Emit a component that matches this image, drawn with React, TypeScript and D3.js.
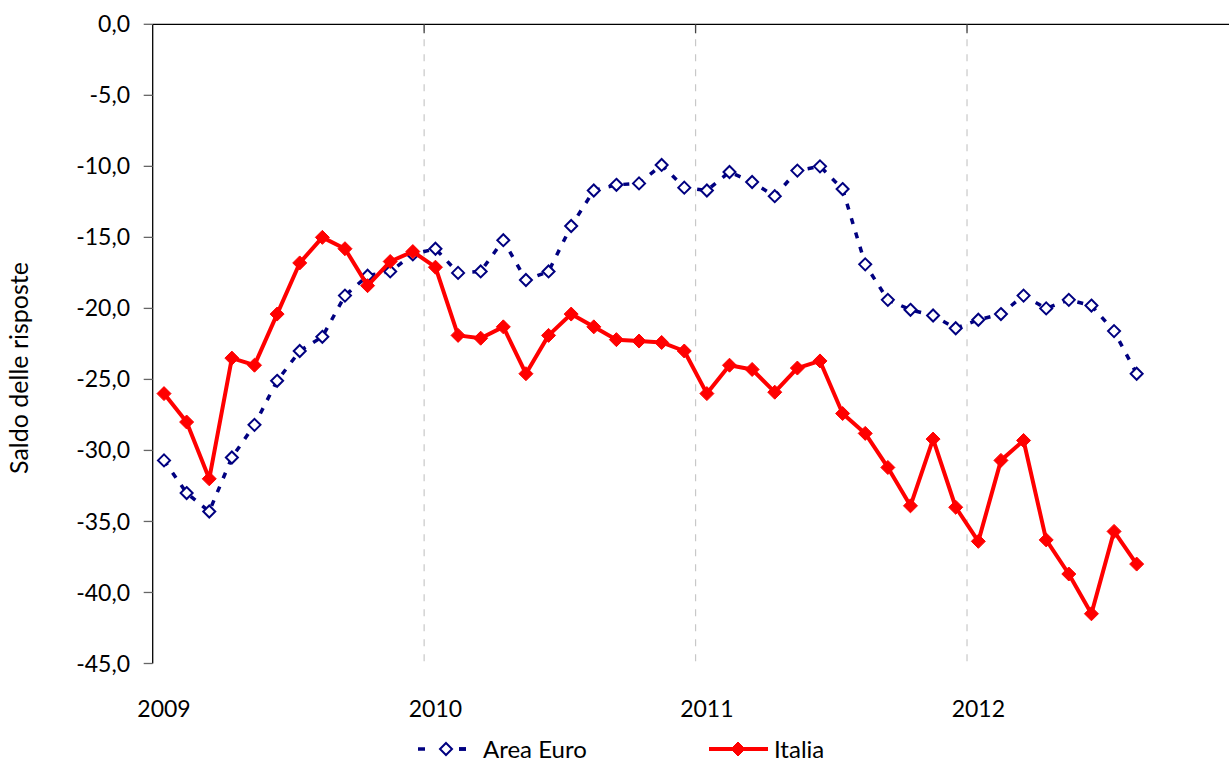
import React from 'react';
import * as d3 from 'd3';

// monthly survey balance, Jan 2009 - Aug 2012
const areaEuro = [
  -30.7, -33.0, -34.3, -30.5, -28.2, -25.1, -23.0, -22.0, -19.1, -17.7, -17.4, -16.2,
  -15.8, -17.5, -17.4, -15.2, -18.0, -17.4, -14.2, -11.7, -11.3, -11.2, -9.9, -11.5,
  -11.7, -10.4, -11.1, -12.1, -10.3, -10.0, -11.6, -16.9, -19.4, -20.1, -20.5, -21.4,
  -20.8, -20.4, -19.1, -20.0, -19.4, -19.8, -21.6, -24.6,
];
const italia = [
  -26.0, -28.0, -32.0, -23.5, -24.0, -20.4, -16.8, -15.0, -15.8, -18.4, -16.7, -16.0,
  -17.1, -21.9, -22.1, -21.3, -24.6, -21.9, -20.4, -21.3, -22.2, -22.3, -22.4, -23.0,
  -26.0, -24.0, -24.3, -25.9, -24.2, -23.7, -27.4, -28.8, -31.2, -33.9, -29.2, -34.0,
  -36.4, -30.7, -29.3, -36.3, -38.7, -41.5, -35.7, -38.0,
];
const years = ['2009', '2010', '2011', '2012'];
const yTicks = [0, -5, -10, -15, -20, -25, -30, -35, -40, -45];

const WIDTH = 1229;
const HEIGHT = 763;
const FONT = 'Lato, "Open Sans", sans-serif';

const Diamond = ({ x, y, r, fill, stroke, sw }: any) => (
  <path
    d={`M${x},${y - r}L${x + r},${y}L${x},${y + r}L${x - r},${y}Z`}
    fill={fill}
    stroke={stroke}
    strokeWidth={sw}
  />
);

const App = () => {
  const left = 152.7;
  const top = 24.3;
  const bottom = 663.5;
  const step = 22.62;

  // category axis: 12 months per year, 4 years
  const x = d3.scaleLinear()
    .domain([-0.5, 47.5])
    .range([left, left + 48 * step]);
  const y = d3.scaleLinear()
    .domain([-45, 0])
    .range([bottom, top]);

  const fmt = (v: number) => d3.format('.1f')(v).replace('.', ',').replace('−', '-');

  const line = d3.line<number>()
    .x((_, i) => x(i))
    .y((d) => y(d));

  const gridIdx = [11.5, 23.5, 35.5];

  return (
    <svg
      width={WIDTH}
      height={HEIGHT}
      style={{ position: 'absolute', left: 0, top: 0, background: '#fff' }}
      fontFamily={FONT}
    >
      {/* vertical dashed gridlines */}
      {gridIdx.map((g) => (
        <line
          key={g}
          x1={x(g)}
          x2={x(g)}
          y1={top}
          y2={bottom}
          stroke="#c8c8c8"
          strokeWidth={1.2}
          strokeDasharray="7 8"
        />
      ))}

      {/* top category axis (crosses at 0) */}
      <line x1={left} x2={WIDTH} y1={top} y2={top} stroke="#000" strokeWidth={1.3} />
      {gridIdx.map((g) => (
        <line key={`t${g}`} x1={x(g)} x2={x(g)} y1={top} y2={top + 9} stroke="#444" strokeWidth={1.3} />
      ))}
      {years.map((yr, i) => (
        <text
          key={yr}
          x={x(i * 12)}
          y={717}
          textAnchor="middle"
          fontSize={23}
          fill="#000"
        >
          {yr}
        </text>
      ))}

      {/* value axis */}
      <line x1={left} x2={left} y1={top} y2={bottom} stroke="#000" strokeWidth={1.3} />
      {yTicks.map((t) => (
        <g key={t} transform={`translate(0, ${y(t)})`}>
          <line x1={left - 9} x2={left} stroke="#666" strokeWidth={1.3} />
          <text x={130} dy="0.35em" textAnchor="end" fontSize={23} fill="#000">
            {fmt(t)}
          </text>
        </g>
      ))}
      <text
        transform={`translate(28, 368) rotate(-90)`}
        textAnchor="middle"
        fontSize={25}
        fill="#000"
      >
        Saldo delle risposte
      </text>

      {/* Area Euro */}
      <path
        d={line(areaEuro) as string}
        fill="none"
        stroke="#000080"
        strokeWidth={3.5}
        strokeDasharray="6 9"
      />
      {areaEuro.map((v, i) => (
        <Diamond key={`e${i}`} x={x(i)} y={y(v)} r={6} fill="#fff" stroke="#000080" sw={2} />
      ))}

      {/* Italia */}
      <path d={line(italia) as string} fill="none" stroke="#ff0000" strokeWidth={4} strokeLinejoin="round" />
      {italia.map((v, i) => (
        <Diamond key={`i${i}`} x={x(i)} y={y(v)} r={7} fill="#ff0000" stroke="#ff0000" sw={1} />
      ))}

      {/* legend */}
      <g>
        <line x1={418} x2={466} y1={749} y2={749} stroke="#000080" strokeWidth={3.5} strokeDasharray="7 34" />
        <line x1={459} x2={466} y1={749} y2={749} stroke="#000080" strokeWidth={3.5} />
        <Diamond x={446} y={749} r={6} fill="#fff" stroke="#000080" sw={2} />
        <text x={483} y={758} fontSize={24} fill="#000">Area Euro</text>
        <line x1={709} x2={768} y1={749} y2={749} stroke="#ff0000" strokeWidth={4} />
        <Diamond x={738} y={749} r={7} fill="#ff0000" stroke="#ff0000" sw={1} />
        <text x={774} y={758} fontSize={24} fill="#000">Italia</text>
      </g>
    </svg>
  );
};

export default App;
